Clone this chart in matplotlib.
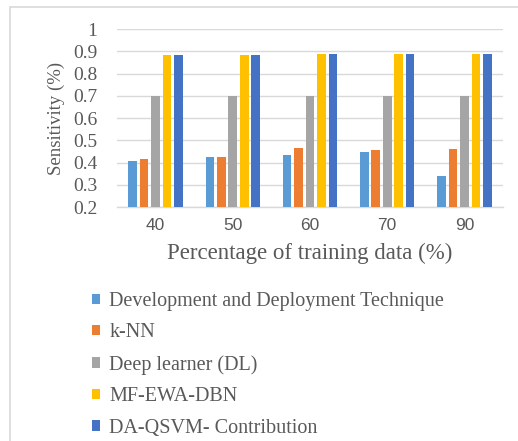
import matplotlib
matplotlib.use("Agg")
import matplotlib.pyplot as plt
from matplotlib.patches import Patch, Rectangle
import numpy as np

categories = ["40", "50", "60", "70", "90"]
series_names = ["Development and Deployment Technique", "k-NN", "Deep learner (DL)",
                "MF-EWA-DBN", "DA-QSVM- Contribution"]
ddt = [0.405, 0.426, 0.434, 0.446, 0.340]
knn = [0.416, 0.425, 0.467, 0.455, 0.459]
dl = [0.700, 0.700, 0.700, 0.700, 0.700]
mf = [0.885, 0.885, 0.887, 0.888, 0.889]
daq = [0.884, 0.885, 0.886, 0.888, 0.889]
series = [ddt, knn, dl, mf, daq]
colors = ["#5B9BD5", "#ED7D31", "#A5A5A5", "#FFC000", "#4472C4"]
yticks = [0.2, 0.3, 0.4, 0.5, 0.6, 0.7, 0.8, 0.9, 1.0]
yticklabels = ["0.2", "0.3", "0.4", "0.5", "0.6", "0.7", "0.8", "0.9", "1"]

W, H = 518, 441
fig = plt.figure(figsize=(W / 100, H / 100), dpi=100)
ax = fig.add_axes([117 / W, 1 - 207 / H, (503 - 117) / W, (207 - 29) / H])

serif = "Liberation Serif"
txtc = "#595959"
grid = "#D9D9D9"

x = np.arange(len(categories))
pitch = 0.148
bw = 0.112
for i, (vals, c) in enumerate(zip(series, colors)):
    ax.bar(x + (i - 2) * pitch, vals, width=bw, color=c, zorder=3)

ax.set_xlim(-0.5, len(categories) - 0.5)
ax.set_ylim(0.2, 1.0)
ax.set_yticks(yticks)
ax.set_yticklabels(yticklabels, fontfamily=serif, fontsize=14, color=txtc)
ax.set_xticks(x)
ax.set_xticklabels(categories, fontfamily="Liberation Sans", fontsize=12.5, color=txtc)
ax.tick_params(axis="both", length=0)
ax.tick_params(axis="y", pad=14)
ax.tick_params(axis="x", pad=8)
ax.grid(axis="y", color=grid, lw=1.0, zorder=0)
for s in ["top", "right", "left"]:
    ax.spines[s].set_visible(False)
ax.spines["bottom"].set_color(grid)
ax.spines["bottom"].set_linewidth(1.0)

ax.set_xlabel("Percentage of training data (%)", fontfamily=serif, fontsize=16.5,
              color=txtc, labelpad=7)
ax.set_ylabel("Sensitivity (%)", fontfamily=serif, fontsize=13.5, color=txtc, labelpad=6)

handles = [Patch(facecolor=c, edgecolor="none") for c in colors]
fig.legend(handles, series_names, loc="upper left", bbox_to_anchor=(92 / W, 1 - 292 / H),
           frameon=False, prop={"family": serif, "size": 14.5}, labelcolor=txtc,
           handlelength=0.4, handleheight=0.4, handletextpad=0.45, labelspacing=0.62,
           borderpad=0, borderaxespad=0)

fig.patches.append(Rectangle((10 / W, -0.1), 1.2, 1 - 7 / H + 0.1, transform=fig.transFigure,
                             fill=False, edgecolor="#D9D9D9", lw=1.2))

fig.savefig("out.png", dpi=100, facecolor="white")
